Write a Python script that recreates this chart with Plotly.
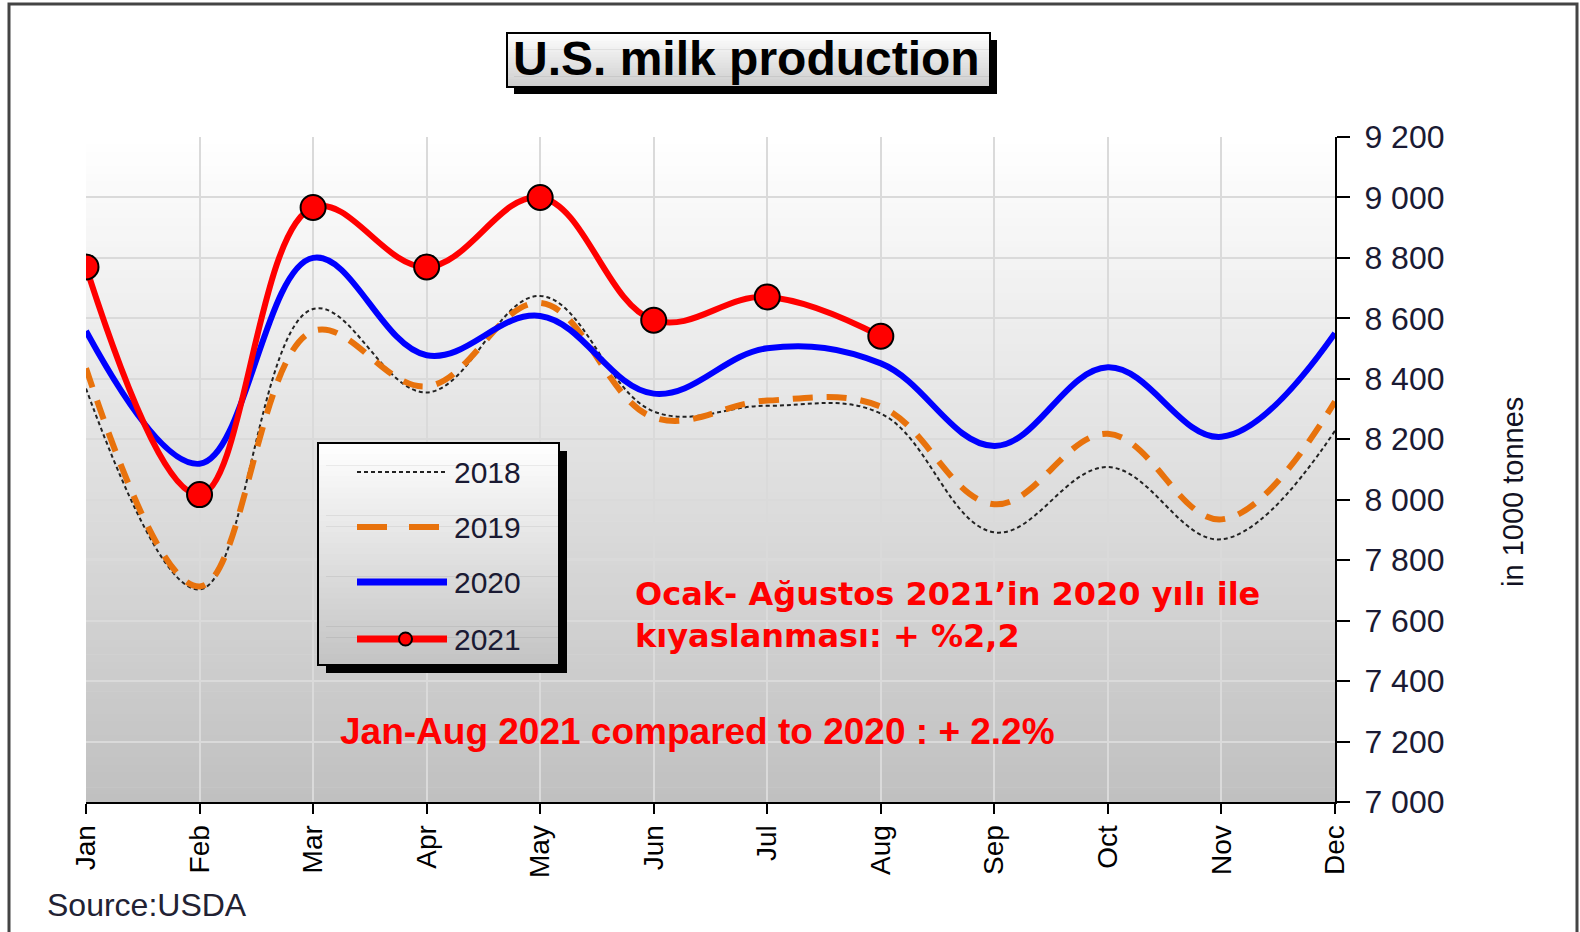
import plotly.graph_objects as go

# ---------------- data ----------------
months = ["Jan", "Feb", "Mar", "Apr", "May", "Jun", "Jul", "Aug", "Sep", "Oct", "Nov", "Dec"]
y2018 = [8368, 7703, 8631, 8355, 8674, 8292, 8311, 8285, 7892, 8108, 7869, 8228]
y2019 = [8435, 7713, 8558, 8375, 8651, 8272, 8328, 8308, 7985, 8218, 7935, 8325]
y2020 = [8558, 8119, 8800, 8478, 8608, 8351, 8501, 8451, 8178, 8438, 8208, 8551]
y2021 = [8770, 8017, 8967, 8770, 9000, 8594, 8671, 8541]
ytickvals = [7000, 7200, 7400, 7600, 7800, 8000, 8200, 8400, 8600, 8800, 9000, 9200]
yticktext = ["7 000", "7 200", "7 400", "7 600", "7 800", "8 000", "8 200", "8 400",
             "8 600", "8 800", "9 000", "9 200"]
legend_names = ["2018", "2019", "2020", "2021"]

# ---------------- layout geometry ----------------
W, H = 1580, 932
L, R, T, B = 86, 1335, 137, 802


def px(x):
    return (x - L) / (R - L)


def py(y):
    return (B - y) / (B - T)


def grey(v):
    v = int(round(v))
    return f"rgb({v},{v},{v})"


shapes = []

# plot-area gradient (below gridlines)
n = 90
for i in range(n):
    y0 = T + (B - T) * i / n
    y1 = T + (B - T) * (i + 1) / n + 0.6
    c = 255 - (255 - 192) * (i + 0.5) / n
    shapes.append(dict(type="rect", xref="paper", yref="paper", layer="below",
                       x0=px(L), x1=px(R), y0=py(y1), y1=py(y0),
                       fillcolor=grey(c), line=dict(width=0)))


def gradient_box(x0, y0, x1, y1, top, bottom, shadow=7, steps=30):
    out = [dict(type="rect", xref="paper", yref="paper", layer="above",
                x0=px(x0 + shadow), x1=px(x1 + shadow), y0=py(y1 + shadow), y1=py(y0 + shadow),
                fillcolor="black", line=dict(width=0))]
    for i in range(steps):
        a = y0 + (y1 - y0) * i / steps
        b = y0 + (y1 - y0) * (i + 1) / steps + 0.6
        c = top - (top - bottom) * (i + 0.5) / steps
        out.append(dict(type="rect", xref="paper", yref="paper", layer="above",
                        x0=px(x0), x1=px(x1), y0=py(min(b, y1)), y1=py(a),
                        fillcolor=grey(c), line=dict(width=0)))
    out.append(dict(type="rect", xref="paper", yref="paper", layer="above",
                    x0=px(x0), x1=px(x1), y0=py(y1), y1=py(y0),
                    fillcolor="rgba(0,0,0,0)", line=dict(color="black", width=2)))
    return out


# title box
shapes += gradient_box(507, 33, 990, 87, 255, 205, shadow=7, steps=20)
# legend box
lx0, ly0, lx1, ly1 = 318, 443, 559, 665
shapes += gradient_box(lx0, ly0, lx1, ly1, 255, 195, shadow=8, steps=40)

# legend glyphs
leg_y = [472, 527, 582, 639]
leg_styles = [
    dict(color="#222222", width=2, dash="4px,3px"),
    dict(color="#E8720C", width=6, dash="30px,22px"),
    dict(color="#0000FF", width=7, dash="solid"),
    dict(color="#FF0000", width=7, dash="solid"),
]
for yy, st in zip(leg_y, leg_styles):
    shapes.append(dict(type="line", xref="paper", yref="paper", layer="above",
                       x0=px(357), x1=px(447), y0=py(yy), y1=py(yy), line=st))
shapes.append(dict(type="circle", xref="paper", yref="paper", layer="above",
                   x0=px(399), x1=px(412), y0=py(645.5), y1=py(632.5),
                   fillcolor="#FF0000", line=dict(color="black", width=2)))

# outer frame
shapes.append(dict(type="rect", xref="paper", yref="paper", layer="above",
                   x0=px(9), x1=px(1577), y0=py(945), y1=py(4),
                   fillcolor="rgba(0,0,0,0)", line=dict(color="#444444", width=3)))

# ---------------- traces ----------------
fig = go.Figure()
fig.add_trace(go.Scatter(x=months, y=y2018, mode="lines", name=legend_names[0],
                         line=dict(color="#222222", width=2, dash="4px,3px",
                                   shape="spline", smoothing=1.1)))
fig.add_trace(go.Scatter(x=months, y=y2019, mode="lines", name=legend_names[1],
                         line=dict(color="#E8720C", width=6, dash="20px,14px",
                                   shape="spline", smoothing=1.1)))
fig.add_trace(go.Scatter(x=months, y=y2020, mode="lines", name=legend_names[2],
                         line=dict(color="#0000FF", width=6,
                                   shape="spline", smoothing=1.1)))
fig.add_trace(go.Scatter(x=months[:len(y2021)], y=y2021, mode="lines+markers",
                         name=legend_names[3],
                         line=dict(color="#FF0000", width=6, shape="spline", smoothing=1.1),
                         marker=dict(size=25, color="#FF0000",
                                     line=dict(color="black", width=2))))

# ---------------- annotations ----------------
annotations = [
    dict(text="<b>U.S. milk production</b>", xref="paper", yref="paper",
         x=px(746), y=py(59), xanchor="center", yanchor="middle", showarrow=False,
         font=dict(family="Liberation Sans, Arial", size=48, color="black")),
    dict(text="in 1000 tonnes", xref="paper", yref="paper", x=px(1513), y=py(492),
         xanchor="center", yanchor="middle", textangle=-90, showarrow=False,
         font=dict(family="Liberation Sans, Arial", size=29, color="#111122")),
    dict(text="Source:USDA", xref="paper", yref="paper", x=px(45), y=py(905),
         xanchor="left", yanchor="middle", showarrow=False,
         font=dict(family="Liberation Sans, Arial", size=32, color="#222233")),
    dict(text="<b>Ocak- Ağustos 2021’in 2020 yılı ile<br>kıyaslanması: + %2,2</b>",
         xref="paper", yref="paper", x=px(633), y=py(615), xanchor="left",
         yanchor="middle", align="left", showarrow=False,
         font=dict(family="DejaVu Sans, Verdana", size=32, color="#FF0000")),
    dict(text="<b>Jan-Aug 2021 compared to 2020 : + 2.2%</b>", xref="paper", yref="paper",
         x=px(697), y=py(731), xanchor="center", yanchor="middle", showarrow=False,
         font=dict(family="Liberation Sans, Arial", size=37, color="#FF0000")),
]
for yy, name in zip(leg_y, legend_names):
    annotations.append(dict(text=name, xref="paper", yref="paper", x=px(452), y=py(yy),
                            xanchor="left", yanchor="middle", showarrow=False,
                            font=dict(family="Liberation Sans, Arial", size=30,
                                      color="#1a1a33")))

fig.update_layout(
    width=W, height=H,
    margin=dict(l=L, r=W - R, t=T, b=H - B, pad=0),
    paper_bgcolor="white", plot_bgcolor="white",
    showlegend=False,
    shapes=shapes, annotations=annotations,
    xaxis=dict(range=[0, 11], type="category", showgrid=True, gridcolor="#dadada",
               gridwidth=2, showline=True, linecolor="black", linewidth=2,
               ticks="outside", ticklen=10, tickwidth=2, tickcolor="black",
               tickangle=-90, zeroline=False,
               tickfont=dict(family="Liberation Sans, Arial", size=28, color="black")),
    yaxis=dict(range=[7000, 9200], side="right", tickvals=ytickvals, ticktext=yticktext,
               showgrid=True, gridcolor="#dadada", gridwidth=2, zeroline=False,
               showline=True, linecolor="black", linewidth=2, ticks="outside",
               ticklen=13, tickwidth=2, tickcolor="black", ticklabelstandoff=8,
               tickfont=dict(family="Liberation Sans, Arial", size=32, color="#1a1a33")),
)

fig.write_html("out.html", config={"displayModeBar": False},
               post_script="document.body.style.margin='0';document.body.style.overflow='hidden';")
